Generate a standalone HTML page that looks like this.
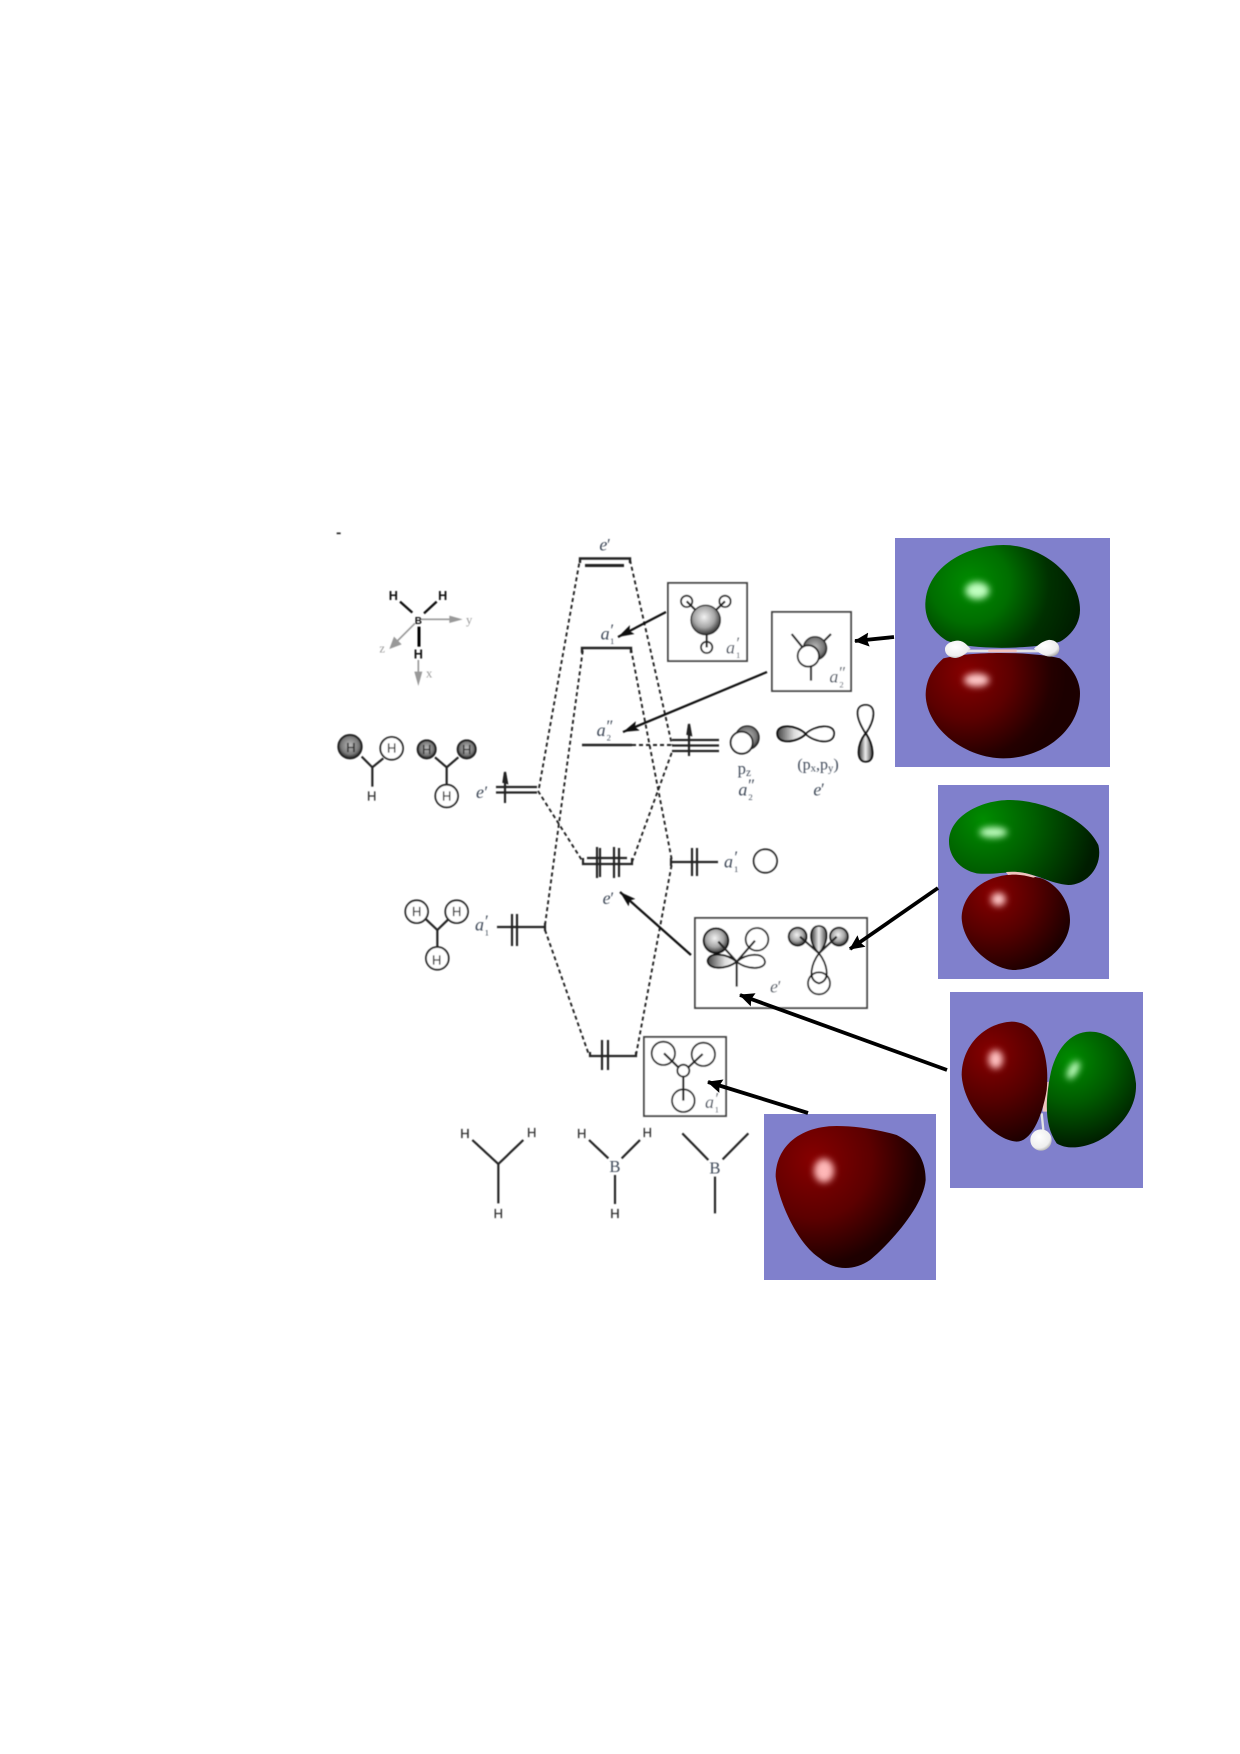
<!DOCTYPE html>
<html><head><meta charset="utf-8"><style>
html,body{margin:0;padding:0;background:#fff}
svg{display:block}
text{font-family:"Liberation Serif",serif;fill:#3f4a58}
.h{font-family:"Liberation Sans",sans-serif;font-size:39px;text-anchor:middle;fill:#333;stroke:#333;stroke-width:.8}
.hb{font-family:"Liberation Sans",sans-serif;font-size:38px;font-weight:bold;text-anchor:middle;fill:#111}
.l{font-style:italic;font-size:54px}
.p{font-style:italic;font-size:50px}
.g{font-size:38px;fill:#999}
.k{fill:none;stroke:#222;stroke-width:6.500}
.o{stroke:#222;stroke-width:5.500}
.d{fill:none;stroke:#222;stroke-width:1.900;stroke-dasharray:4 3}
.v{fill:none;stroke:#222;stroke-width:2.200}
.box{fill:#fff;stroke:#444;stroke-width:1.900}
</style></head><body>
<svg width="1240" height="1754" viewBox="0 0 1240 1754" xmlns="http://www.w3.org/2000/svg">
<defs>
<filter id="b" x="-5%" y="-5%" width="110%" height="110%"><feGaussianBlur stdDeviation="0.4"/></filter>
<filter id="hl" x="-80%" y="-80%" width="260%" height="260%"><feGaussianBlur stdDeviation="10"/></filter>
<radialGradient id="sh" cx="45%" cy="40%" r="60%"><stop offset="0" stop-color="#f2f2f2"/><stop offset=".6" stop-color="#a5a5a5"/><stop offset="1" stop-color="#333"/></radialGradient>
<radialGradient id="dk" cx="50%" cy="45%" r="55%"><stop offset="0" stop-color="#bbb"/><stop offset=".7" stop-color="#777"/><stop offset="1" stop-color="#222"/></radialGradient>
<linearGradient id="lob" x1="0" x2="1"><stop offset="0" stop-color="#444"/><stop offset=".6" stop-color="#ddd"/><stop offset="1" stop-color="#fff"/></linearGradient>
<linearGradient id="lobv" x1="0" x2="1"><stop offset="0" stop-color="#333"/><stop offset=".5" stop-color="#eee"/><stop offset="1" stop-color="#444"/></linearGradient>
<radialGradient id="g1" gradientUnits="userSpaceOnUse" cx="270" cy="190" r="340"><stop offset="0" stop-color="#008c00"/><stop offset=".35" stop-color="#006e00"/><stop offset=".7" stop-color="#003000"/><stop offset="1" stop-color="#001d00"/></radialGradient>
<radialGradient id="r1" gradientUnits="userSpaceOnUse" cx="260" cy="460" r="300"><stop offset="0" stop-color="#860000"/><stop offset=".45" stop-color="#5c0000"/><stop offset=".85" stop-color="#240000"/><stop offset="1" stop-color="#1c0000"/></radialGradient>
<radialGradient id="g2" gradientUnits="userSpaceOnUse" cx="310" cy="900" r="340"><stop offset="0" stop-color="#008c00"/><stop offset=".45" stop-color="#005e00"/><stop offset="1" stop-color="#001d00"/></radialGradient>
<radialGradient id="r2" gradientUnits="userSpaceOnUse" cx="340" cy="1120" r="250"><stop offset="0" stop-color="#860000"/><stop offset=".5" stop-color="#560000"/><stop offset="1" stop-color="#1c0000"/></radialGradient>
<radialGradient id="r3" gradientUnits="userSpaceOnUse" cx="750" cy="220" r="280"><stop offset="0" stop-color="#860000"/><stop offset=".5" stop-color="#560000"/><stop offset="1" stop-color="#1c0000"/></radialGradient>
<radialGradient id="g3" gradientUnits="userSpaceOnUse" cx="990" cy="240" r="260"><stop offset="0" stop-color="#008c00"/><stop offset=".5" stop-color="#005a00"/><stop offset="1" stop-color="#001d00"/></radialGradient>
<radialGradient id="r4" gradientUnits="userSpaceOnUse" cx="220" cy="540" r="350"><stop offset="0" stop-color="#860000"/><stop offset=".5" stop-color="#5c0000"/><stop offset=".9" stop-color="#1e0000"/><stop offset="1" stop-color="#1c0000"/></radialGradient>
<radialGradient id="wh" cx="40%" cy="35%" r="75%"><stop offset="0" stop-color="#fff"/><stop offset=".7" stop-color="#eee"/><stop offset="1" stop-color="#999"/></radialGradient>
<marker id="ah" markerUnits="userSpaceOnUse" markerWidth="18" markerHeight="12" refX="16" refY="6" orient="auto"><path d="M0,1L16,6L0,11L3,6Z" fill="#111"/></marker>
<marker id="at" markerUnits="userSpaceOnUse" markerWidth="18" markerHeight="16" refX="14" refY="7" orient="auto"><path d="M0,0L15,7L0,14L2,7Z" fill="#000"/></marker>
</defs>

<g filter="url(#b)">
<g class="d">
<path d="M539,788L580,559"/><path d="M538,791L583,862"/>
<path d="M545,925L583,649"/><path d="M545,930L589,1055"/>
<path d="M630,560L672,745"/><path d="M631,649L672,861"/>
<path d="M632,862L672,752"/><path d="M636,1055L672,863"/>
<path d="M632,745L672,745"/>
</g>
<g class="v">
<path d="M580,563V558.500H630V563" stroke-width="2.400"/>
<path d="M585,565.500H624" stroke-width="3"/>
<path d="M582,653V648H631V653" stroke-width="2.400"/>
<path d="M582,745H632" stroke-width="2.400"/>
<path d="M672,740H719M672,745.500H719M672,751H719"/>
<path d="M689,727V756"/><path d="M689,724l-1.500,10l3.500,1z" fill="#222"/>
<path d="M496,787H537M496,792.500H537"/><path d="M505,773V803"/><path d="M505,772l-1.500,10l3.500,1z" fill="#222"/>
<path d="M497,927H545M545,923V931"/><path d="M512,914V946M517,914V946"/>
<path d="M583,858V864H632V858M587,858H627"/><path d="M597,847V878M600,848V877M614,847V878M619,848V877"/>
<path d="M671,858V866M671,862H718"/><path d="M692,848V876M697,848V876"/>
<path d="M590,1052V1056H636V1052"/><path d="M602,1040V1070M608,1040V1070"/>
</g>

<rect class="box" x="668" y="583" width="79" height="78"/>
<rect class="box" x="772" y="612" width="79" height="79"/>
<rect class="box" x="695" y="918" width="172" height="90"/>
<rect class="box" x="644" y="1037" width="82" height="79"/>

<g fill="none" stroke="#111" stroke-width="2.200">
<path d="M666,612L618,637" marker-end="url(#ah)"/>
<path d="M767,672L623,732" marker-end="url(#ah)"/>
<path d="M691,955L620,892" marker-end="url(#ah)"/>
</g>

<g transform="translate(320,520) scale(.33333)">
<path d="M50,40H62" stroke="#222" stroke-width="5"/>
<g fill="none" stroke="#999" stroke-width="5">
<path d="M300,298H395"/>
<path d="M285,310L225,370"/><path d="M295,420V465"/>
</g>
<path d="M388,287L428,298L388,309Z" fill="#999"/>
<path d="M208,387L222,350L245,373Z" fill="#999"/>
<path d="M295,498L283,455H307Z" fill="#999"/>
<path d="M240,245L277,278M350,245L312,280" stroke="#111" stroke-width="7" fill="none"/><path d="M297,320V380" stroke="#000" stroke-width="9"/>
<text class="hb" x="220" y="240">H</text><text class="hb" x="368" y="240">H</text><text class="hb" x="295" y="416">H</text>
<text class="hb" x="295" y="312" style="font-size:30px">B</text>
<text class="g" x="438" y="312">y</text><text class="g" x="178" y="398">z</text><text class="g" x="318" y="472">x</text>

<text class="l" x="838" y="92">e</text><text class="p" x="858" y="90">′</text>
<text class="l" x="842" y="358">a</text><text x="870" y="372" style="font-size:26px">1</text><text class="p" x="868" y="346">′</text>
<text class="l" x="830" y="648">a</text><text x="860" y="662" style="font-size:26px">2</text><text class="p" x="856" y="634">″</text>
<text class="l" x="468" y="834">e</text><text class="p" x="490" y="832">′</text>

<path class="k" d="M125,710L157,742L190,715M157,742V800M345,712L380,742L415,712M380,742V795"/>
<circle cx="90" cy="680" r="35" fill="url(#dk)" stroke="#222" stroke-width="6"/>
<circle cx="215" cy="685" r="34" fill="#fff" class="o"/>
<circle cx="320" cy="688" r="27" fill="url(#dk)" stroke="#222" stroke-width="6"/>
<circle cx="440" cy="688" r="27" fill="url(#dk)" stroke="#222" stroke-width="6"/>
<circle cx="380" cy="828" r="34" fill="#fff" class="o"/>
<text class="h" x="93" y="696">H</text><text class="h" x="215" y="698">H</text><text class="h" x="155" y="842">H</text>
<text class="h" x="320" y="702">H</text><text class="h" x="440" y="702">H</text><text class="h" x="380" y="842">H</text>
</g>

<g transform="translate(320,720) scale(.33333)">
<path class="k" d="M318,598L352,630L385,598M352,630V685"/>
<circle cx="290" cy="575" r="34" fill="#fff" class="o"/>
<circle cx="410" cy="575" r="34" fill="#fff" class="o"/>
<circle cx="352" cy="715" r="34" fill="#fff" class="o"/>
<text class="h" x="290" y="588">H</text><text class="h" x="410" y="588">H</text><text class="h" x="350" y="733">H</text>
<text class="l" x="465" y="632">a</text><text x="494" y="646" style="font-size:26px">1</text><text class="p" x="492" y="620">′</text>
<text class="l" x="848" y="552">e</text><text class="p" x="868" y="550">′</text>
</g>

<g transform="translate(640,560) scale(.33333)">
<path class="k" d="M140,124L197,180L255,124M200,200V262"/>
<circle cx="140" cy="124" r="17" fill="none" class="o"/><circle cx="255" cy="124" r="17" fill="none" class="o"/><circle cx="200" cy="262" r="17" fill="none" class="o"/>
<circle cx="197" cy="180" r="44" fill="url(#sh)" stroke="#222" stroke-width="4"/>
<text class="l" x="258" y="280">a</text><text x="288" y="294" style="font-size:26px">1</text><text class="p" x="286" y="266">′</text>

<path class="k" d="M455,222L490,265M573,222L540,255M513,320V362"/>
<circle cx="525" cy="265" r="35" fill="url(#dk)" stroke="#222" stroke-width="4"/>
<circle cx="505" cy="288" r="32" fill="#fff" class="o"/>
<text class="l" x="568" y="368">a</text><text x="598" y="382" style="font-size:26px">2</text><text class="p" x="594" y="354">″</text>

<circle cx="322" cy="533" r="35" fill="url(#dk)" stroke="#222" stroke-width="4"/>
<circle cx="305" cy="548" r="33" fill="#fff" class="o"/>
<path d="M497,522C470,495 412,490 412,520C412,555 470,548 497,522Z" fill="url(#lob)" stroke="#111" stroke-width="6"/>
<path d="M497,522C525,495 582,490 582,520C582,555 525,548 497,522Z" fill="#fff" stroke="#111" stroke-width="5.500"/>
<path d="M677,520C645,470 645,435 677,435C710,435 705,480 677,520Z" fill="#fff" stroke="#111" stroke-width="5.500"/>
<path d="M677,520C650,555 648,605 677,605C708,605 700,555 677,520Z" fill="url(#lobv)" stroke="#111" stroke-width="6"/>
<text x="293" y="642" style="font-size:50px">p<tspan dy="6" style="font-size:34px">z</tspan></text>
<text class="l" x="295" y="706">a</text><text x="325" y="720" style="font-size:26px">2</text><text class="p" x="321" y="692">″</text>
<text x="472" y="628" style="font-size:48px">(p<tspan dy="6" style="font-size:32px">x</tspan><tspan dy="-6">,p</tspan><tspan dy="6" style="font-size:32px">y</tspan><tspan dy="-6">)</tspan></text>
<text class="l" x="520" y="706">e</text><text class="p" x="540" y="704">′</text>
</g>

<g transform="translate(640,820) scale(.33333)">
<circle cx="376" cy="123" r="35" fill="#fff" class="o"/>
<text class="l" x="252" y="142">a</text><text x="282" y="156" style="font-size:26px">1</text><text class="p" x="280" y="128">′</text>

<circle cx="228" cy="362" r="37" fill="url(#sh)" stroke="#111" stroke-width="6"/>
<circle cx="351" cy="358" r="34" fill="#fff" class="o"/>
<path d="M290,425C260,400 210,395 203,420C200,450 260,450 290,425Z" fill="url(#lob)" stroke="#111" stroke-width="6"/>
<path d="M290,425C320,400 370,395 375,425C375,450 320,450 290,425Z" fill="#fff" stroke="#111" stroke-width="5.500"/>
<path class="k" d="M235,365L290,425L345,362M290,425V500"/>
<text class="l" x="390" y="518">e</text><text class="p" x="410" y="516">′</text>

<circle cx="473" cy="350" r="27" fill="url(#sh)" stroke="#111" stroke-width="5.500"/>
<circle cx="597" cy="350" r="27" fill="url(#sh)" stroke="#111" stroke-width="5.500"/>
<circle cx="537" cy="490" r="33" fill="#fff" class="o"/>
<path d="M537,400C515,430 500,480 537,490C575,480 560,430 537,400Z" fill="none" stroke="#111" stroke-width="5.500"/>
<path d="M537,400C505,370 505,318 537,318C570,318 565,370 537,400Z" fill="url(#lobv)" stroke="#111" stroke-width="5.500"/>
<path class="k" d="M480,350L537,400L590,350"/>

<circle cx="70" cy="700" r="35" fill="none" class="o"/>
<circle cx="190" cy="703" r="35" fill="none" class="o"/>
<circle cx="130" cy="842" r="34" fill="none" class="o"/>
<path class="k" d="M72,700L115,742M188,702L145,742M130,770V842"/>
<circle cx="130" cy="752" r="18" fill="#fff" class="o"/>
<text class="l" x="195" y="864">a</text><text x="224" y="878" style="font-size:26px">1</text><text class="p" x="223" y="852">′</text>
</g>

<g transform="translate(440,1100) scale(.33333)">
<path class="k" d="M97,120L175,192L250,120M175,192V310M447,120L505,175M600,120L545,175M525,225V312M727,100L805,180M925,100L848,178M825,230V340"/>
<text class="h" x="75" y="114">H</text><text class="h" x="275" y="111">H</text><text class="h" x="175" y="354">H</text>
<text class="h" x="425" y="114">H</text><text class="h" x="622" y="111">H</text><text class="h" x="525" y="354">H</text>
<text x="525" y="216" text-anchor="middle" style="font-size:50px">B</text>
<text x="825" y="221" text-anchor="middle" style="font-size:50px">B</text>
</g>
</g>

<rect x="895" y="538" width="215" height="229" fill="#8080cc"/>
<rect x="938" y="785" width="171" height="194" fill="#8080cc"/>
<rect x="950" y="992" width="193" height="196" fill="#8080cc"/>
<rect x="764" y="1114" width="172" height="166" fill="#8080cc"/>

<g fill="none" stroke="#000" stroke-width="3.800">
<path d="M894,637L855,641" marker-end="url(#at)"/>
<path d="M938,888L850,949" marker-end="url(#at)"/>
<path d="M947,1070L740,995" marker-end="url(#at)"/>
<path d="M808,1113L708,1082" marker-end="url(#at)"/>
</g>

<g transform="translate(880,520) scale(.33333)">
<path d="M200,362C150,330 135,290 136,250C140,140 260,75 370,75C490,75 600,170 600,270C600,310 575,345 540,365C480,385 280,395 200,362Z" fill="url(#g1)"/>
<ellipse cx="292" cy="212" rx="36" ry="26" fill="#c0ffc0" filter="url(#hl)"/>
<path d="M190,415C150,450 137,490 137,525C140,630 260,715 370,715C490,715 600,630 600,520C600,480 575,440 540,415C460,395 280,392 190,415Z" fill="url(#r1)"/>
<ellipse cx="290" cy="480" rx="38" ry="20" fill="#ffc8c8" filter="url(#hl)"/>
<path d="M260,389H480V397H260Z" fill="#e4e4e4"/>
<path d="M325,388H410V397H325Z" fill="#f0c4be"/>
<path d="M195,388C195,372 215,362 235,362C255,364 262,378 272,386C262,398 250,410 228,414C208,414 195,402 195,388Z" fill="url(#wh)"/>
<path d="M538,386C538,372 525,358 505,360C485,364 475,376 462,385C475,398 490,408 510,410C528,410 538,400 538,386Z" fill="url(#wh)"/>

<path d="M207,965C207,890 300,840 390,840C500,842 620,900 655,975C670,1040 620,1095 565,1095C510,1090 470,1062 420,1057C370,1055 340,1065 290,1060C240,1050 207,1010 207,965Z" fill="url(#g2)"/>
<ellipse cx="340" cy="937" rx="42" ry="16" fill="#c0ffc0" filter="url(#hl)"/>
<path d="M380,1065C300,1075 245,1130 245,1195C250,1280 340,1350 405,1350C490,1345 570,1280 570,1200C570,1130 510,1075 470,1072C440,1062 410,1062 380,1065Z" fill="url(#r2)"/>
<path d="M378,1056C410,1053 440,1058 470,1070L460,1073C430,1064 400,1062 384,1065Z" fill="#f0c4be"/>
<ellipse cx="355" cy="1138" rx="22" ry="20" fill="#ffc8c8" filter="url(#hl)"/>
</g>

<g transform="translate(740,980) scale(.33333)">
<path d="M905,400L910,450" stroke="#e4e4e4" stroke-width="7"/>
<path d="M912,310L926,305L922,395H908Z" fill="#f0c4be"/>
<path d="M815,125C730,130 665,200 665,285C670,380 760,480 830,485C870,485 905,420 920,330C930,230 900,125 815,125Z" fill="url(#r3)"/>
<ellipse cx="767" cy="238" rx="22" ry="28" fill="#ffc0c0" filter="url(#hl)"/>
<path d="M1050,155C990,155 945,210 930,290C915,370 915,440 950,490C990,515 1060,500 1110,460C1170,410 1190,360 1188,310C1180,220 1120,155 1050,155Z" fill="url(#g3)"/>
<ellipse cx="1000" cy="270" rx="14" ry="30" transform="rotate(30 1000 270)" fill="#c0ffc0" filter="url(#hl)"/>
<circle cx="903" cy="480" r="32" fill="url(#wh)"/>
</g>
<g transform="translate(740,980) scale(.33333)">
<path d="M290,438C180,438 107,500 107,590C115,660 170,790 240,835C280,870 340,875 390,840C450,790 550,680 557,600C557,530 520,490 470,465C400,445 340,438 290,438Z" fill="url(#r4)"/>
<ellipse cx="252" cy="572" rx="30" ry="36" fill="#ffb8b8" filter="url(#hl)"/>
</g>
</svg>
</body></html>
